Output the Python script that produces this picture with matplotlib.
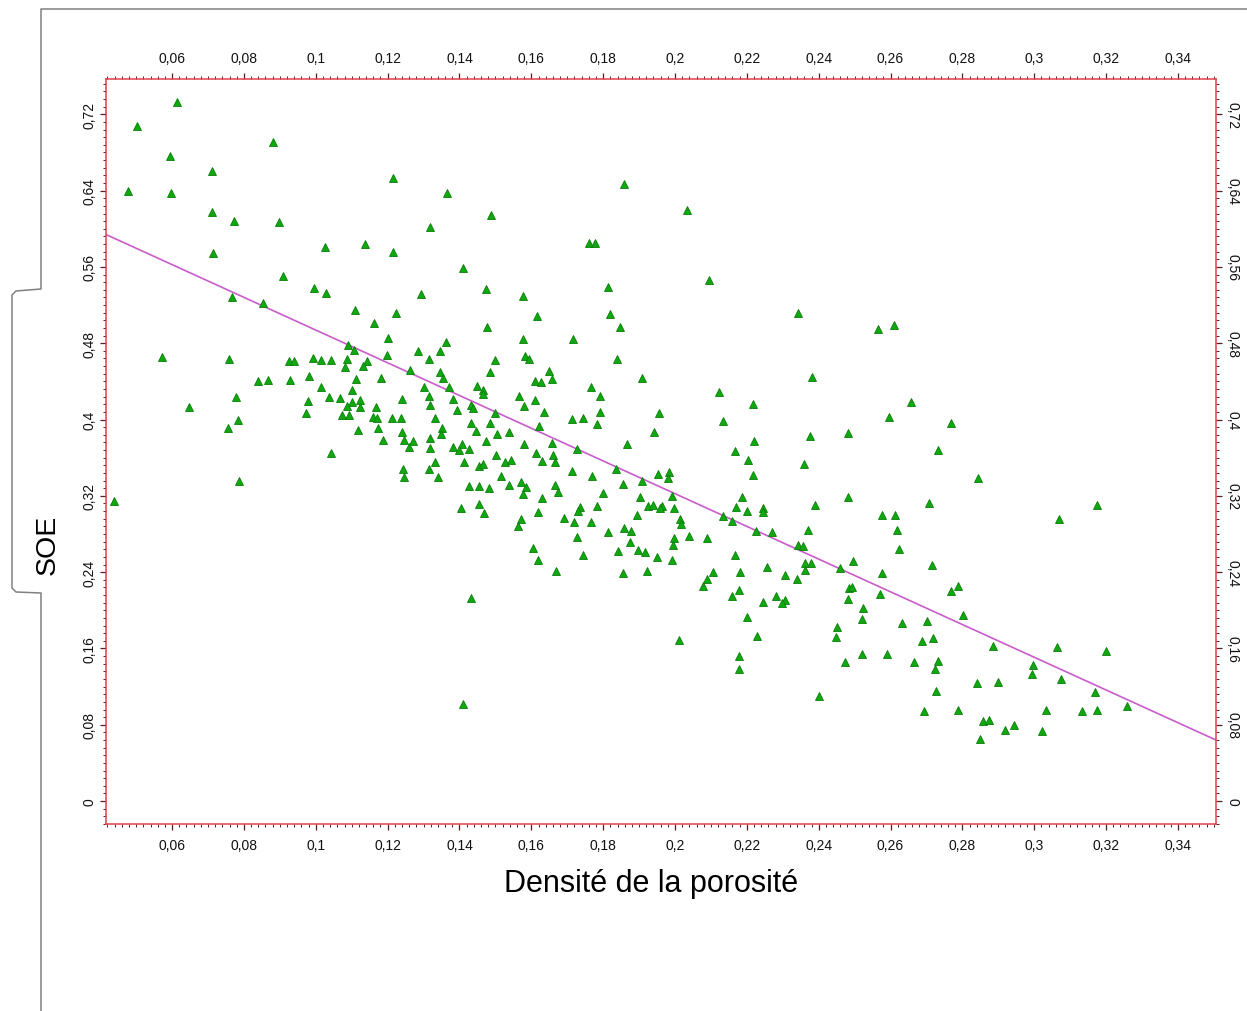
import matplotlib
matplotlib.use("Agg")
import matplotlib.pyplot as plt
from matplotlib.lines import Line2D
from matplotlib.ticker import FixedLocator, MultipleLocator, FuncFormatter
import numpy as np

plt.rcParams['font.family'] = ['Liberation Sans', 'DejaVu Sans']

# porosity density (x) and SOE (y)
densite = [
    0.0614, 0.0503, 0.0881, 0.0595, 0.0711, 0.1215, 0.0478, 0.0598, 0.1365, 0.0711,
    0.0773, 0.0898, 0.1318, 0.1026, 0.1137, 0.1215, 0.0714, 0.1410, 0.0909, 0.0995,
    0.1029, 0.1293, 0.0767, 0.0853, 0.1109, 0.1224, 0.1162, 0.1201, 0.1363, 0.1090,
    0.1107, 0.1346, 0.1285, 0.1199, 0.0572, 0.0759, 0.0926, 0.0940, 0.0993, 0.1015,
    0.1043, 0.1087, 0.1315, 0.1143, 0.1132, 0.1082, 0.1263, 0.1346, 0.1354, 0.0981,
    0.1182, 0.1112, 0.0839, 0.0867, 0.0929, 0.1301, 0.1371, 0.1449, 0.1015, 0.1101,
    0.1315, 0.1037, 0.1068, 0.0778, 0.1382, 0.1240, 0.1123, 0.1101, 0.1123, 0.0979,
    0.0647, 0.1087, 0.1318, 0.1168, 0.1432, 0.1438, 0.1393, 0.0973, 0.1073, 0.1093,
    0.1160, 0.1171, 0.1212, 0.1237, 0.1332, 0.0784, 0.0756, 0.1118, 0.1173, 0.1432,
    0.1446, 0.1240, 0.1352, 0.1349, 0.1187, 0.1246, 0.1318, 0.1271, 0.1260, 0.1318,
    0.1382, 0.1407, 0.1427, 0.1399, 0.1043, 0.1332, 0.1413, 0.1243, 0.1246, 0.1315,
    0.1340, 0.1455, 0.1466, 0.0787, 0.1427, 0.1455, 0.0439, 0.1404, 0.1455, 0.1432,
    0.1410,
    0.1858, 0.2033, 0.1488, 0.1761, 0.1777, 0.1474, 0.1814, 0.2095, 0.1577, 0.1819,
    0.1616, 0.2342, 0.1477, 0.1847, 0.1577, 0.1716, 0.1583, 0.1594, 0.1499, 0.1839,
    0.1485, 0.1649, 0.1658, 0.1610, 0.1627, 0.1908, 0.2381, 0.1466, 0.1466, 0.1566,
    0.1766, 0.1791, 0.2122, 0.1610, 0.1580, 0.2217, 0.1499, 0.1635, 0.1791, 0.1955,
    0.1713, 0.1744, 0.1485, 0.1783, 0.2134, 0.1622, 0.1505, 0.1538, 0.1942, 0.2481,
    0.1474, 0.1580, 0.1658, 0.1866, 0.2220, 0.2376, 0.1727, 0.2167,
    0.1502, 0.1527, 0.1544, 0.1613, 0.1630, 0.1660, 0.1666, 0.2203, 0.2359, 0.2217,
    0.1713, 0.1769, 0.1836, 0.1908, 0.1953, 0.1983, 0.1981, 0.1516, 0.1571, 0.1585,
    0.1577, 0.1538, 0.1482, 0.1666, 0.1674, 0.1855, 0.1800, 0.1630, 0.1903, 0.1992,
    0.2186, 0.2390, 0.2481, 0.1468, 0.1736, 0.1730, 0.1783, 0.1619, 0.1925, 0.1939,
    0.1964, 0.1958, 0.1997, 0.2170, 0.2200, 0.2245, 0.2245, 0.1894, 0.1691, 0.1719,
    0.1766, 0.2014, 0.2017, 0.2134, 0.2159, 0.1571, 0.1563, 0.1858, 0.1878, 0.1814,
    0.2225, 0.2270, 0.2370, 0.1727, 0.1875, 0.1997, 0.1994, 0.2039, 0.2089, 0.2342,
    0.2356, 0.1605, 0.1841, 0.1897, 0.1917, 0.1744, 0.1950, 0.2167, 0.1619, 0.1992,
    0.2362, 0.2378, 0.2362, 0.2459, 0.1669, 0.1855, 0.1922, 0.2106, 0.2089, 0.2078,
    0.2181, 0.2256, 0.2306, 0.2340, 0.2484, 0.2481, 0.2178, 0.2159, 0.2281, 0.2306,
    0.2298, 0.2245, 0.2200, 0.2451, 0.2448, 0.2228, 0.2011, 0.2178, 0.2178, 0.2473,
    0.2401,
    0.2732, 0.2843, 0.2707, 0.3174, 0.2576, 0.2612, 0.3069, 0.2618, 0.2623, 0.2495,
    0.2715, 0.2576, 0.2493, 0.2788, 0.2768, 0.2571, 0.2523, 0.2520, 0.2632, 0.2701,
    0.2802, 0.2687, 0.2718, 0.2885, 0.3063, 0.3199, 0.2520, 0.2590, 0.2665, 0.2732,
    0.2724, 0.2996, 0.2994, 0.2840, 0.2899, 0.3074, 0.2726, 0.3169, 0.3258, 0.2693,
    0.2788, 0.3033, 0.3133, 0.3174, 0.2857, 0.2874, 0.2918, 0.2943, 0.3021, 0.2849,
    0.2565, 0.2609, 0.2657, 0.2596, 0.2768,
]
soe = [
    0.733, 0.708, 0.691, 0.676, 0.661, 0.653, 0.640, 0.637, 0.637, 0.618,
    0.608, 0.607, 0.602, 0.581, 0.584, 0.576, 0.575, 0.559, 0.551, 0.538,
    0.533, 0.532, 0.528, 0.522, 0.515, 0.512, 0.501, 0.486, 0.481, 0.478,
    0.473, 0.472, 0.472, 0.468, 0.466, 0.463, 0.461, 0.461, 0.465, 0.462,
    0.462, 0.463, 0.463, 0.461, 0.456, 0.455, 0.452, 0.450, 0.444, 0.446,
    0.444, 0.443, 0.440, 0.441, 0.441, 0.434, 0.434, 0.435, 0.434, 0.431,
    0.425, 0.424, 0.423, 0.424, 0.422, 0.422, 0.421, 0.418, 0.413, 0.419,
    0.413, 0.414, 0.415, 0.413, 0.415, 0.412, 0.410, 0.407, 0.405, 0.405,
    0.403, 0.402, 0.402, 0.402, 0.402, 0.399, 0.391, 0.389, 0.391, 0.396,
    0.388, 0.387, 0.391, 0.385, 0.379, 0.379, 0.381, 0.377, 0.371, 0.370,
    0.371, 0.374, 0.369, 0.368, 0.365, 0.356, 0.356, 0.348, 0.340, 0.348,
    0.340, 0.351, 0.353, 0.336, 0.330, 0.330, 0.315, 0.307, 0.311, 0.213,
    0.102,
    0.647, 0.620, 0.614, 0.585, 0.585, 0.537, 0.539, 0.546, 0.529, 0.511,
    0.509, 0.512, 0.497, 0.497, 0.484, 0.484, 0.467, 0.463, 0.462, 0.463,
    0.450, 0.451, 0.442, 0.440, 0.439, 0.444, 0.445, 0.431, 0.427, 0.425,
    0.434, 0.425, 0.429, 0.420, 0.414, 0.416, 0.407, 0.408, 0.408, 0.407,
    0.401, 0.402, 0.396, 0.395, 0.398, 0.393, 0.385, 0.387, 0.387, 0.386,
    0.377, 0.374, 0.375, 0.374, 0.378, 0.383, 0.369, 0.367,
    0.363, 0.356, 0.358, 0.365, 0.357, 0.363, 0.355, 0.358, 0.353, 0.342,
    0.346, 0.341, 0.348, 0.336, 0.343, 0.345, 0.339, 0.341, 0.335, 0.329,
    0.322, 0.331, 0.328, 0.331, 0.324, 0.332, 0.323, 0.318, 0.319, 0.320,
    0.319, 0.310, 0.319, 0.302, 0.308, 0.304, 0.309, 0.303, 0.309, 0.310,
    0.309, 0.307, 0.307, 0.308, 0.304, 0.307, 0.303, 0.300, 0.297, 0.293,
    0.293, 0.296, 0.290, 0.299, 0.294, 0.296, 0.288, 0.286, 0.283, 0.282,
    0.283, 0.282, 0.284, 0.277, 0.272, 0.276, 0.269, 0.278, 0.276, 0.269,
    0.267, 0.265, 0.262, 0.263, 0.261, 0.258, 0.256, 0.258, 0.253, 0.253,
    0.250, 0.250, 0.242, 0.244, 0.241, 0.239, 0.241, 0.240, 0.233, 0.225,
    0.240, 0.245, 0.237, 0.233, 0.223, 0.212, 0.221, 0.215, 0.215, 0.211,
    0.208, 0.209, 0.193, 0.183, 0.172, 0.173, 0.169, 0.152, 0.139, 0.146,
    0.110,
    0.368, 0.339, 0.312, 0.310, 0.300, 0.300, 0.296, 0.284, 0.264, 0.252,
    0.248, 0.239, 0.224, 0.226, 0.220, 0.217, 0.202, 0.191, 0.187, 0.189,
    0.195, 0.168, 0.171, 0.163, 0.162, 0.157, 0.154, 0.154, 0.146, 0.147,
    0.139, 0.143, 0.133, 0.124, 0.125, 0.128, 0.115, 0.114, 0.100, 0.094,
    0.095, 0.096, 0.094, 0.095, 0.084, 0.085, 0.075, 0.080, 0.073, 0.065,
    0.495, 0.499, 0.418, 0.403, 0.396,
]

# fitted line: SOE = intercept + slope * densite
fit_intercept = 0.6653
fit_slope = -1.715

x_ticks = [0.06, 0.08, 0.10, 0.12, 0.14, 0.16, 0.18, 0.20, 0.22, 0.24,
           0.26, 0.28, 0.30, 0.32, 0.34]
y_ticks = [0.0, 0.08, 0.16, 0.24, 0.32, 0.40, 0.48, 0.56, 0.64, 0.72]
x_range = (0.0416, 0.3506)
y_range = (-0.024, 0.757)


def virgule(v, pos=None):
    return f"{round(v, 4):g}".replace('.', ',')


W, H = 1247, 1012
fig = plt.figure(figsize=(W / 100, H / 100), dpi=100)
fig.patch.set_facecolor('white')

ax = fig.add_axes([106 / W, 1 - 825 / H, (1216 - 106) / W, (825 - 80) / H])

ax.plot(densite, soe, linestyle='none', marker='^', ms=5.5,
        mfc='#10a810', mec='#087e08', mew=0.6, zorder=3)

xs = np.array(x_range)
ax.plot(xs, fit_intercept + fit_slope * xs, color='#c85ccb', lw=1.2, zorder=2)

ax.set_xlim(*x_range)
ax.set_ylim(*y_range)

ax.xaxis.set_major_locator(FixedLocator(x_ticks))
ax.yaxis.set_major_locator(FixedLocator(y_ticks))
ax.xaxis.set_minor_locator(MultipleLocator(0.002))
ax.yaxis.set_minor_locator(MultipleLocator(0.008))
ax.xaxis.set_major_formatter(FuncFormatter(virgule))
ax.yaxis.set_major_formatter(FuncFormatter(virgule))

for s in ax.spines.values():
    s.set_color('#e2404c')
    s.set_linewidth(1.1)

ax.tick_params(which='both', direction='out', top=True, right=True,
               labeltop=True, labelright=True, color='#5a1f24',
               labelsize=10, labelcolor='#111111')
ax.tick_params(which='major', length=4, width=0.9)
ax.tick_params(which='minor', length=2, width=0.7)
ax.tick_params(axis='x', which='major', pad=6)
ax.tick_params(axis='y', which='major', pad=3)

for t in ax.yaxis.get_major_ticks():
    t.label1.set_rotation(90)
    t.label1.set_va('center')
    t.label2.set_rotation(-90)
    t.label2.set_va('center')

fig.text(48 / W, 1 - 545 / H, 'SOE', rotation=90, ha='center', va='center',
         fontsize=20.5)
fig.text(651 / W, 1 - 884 / H, 'Densité de la porosité', ha='center',
         va='center', fontsize=22)

# scan border round the figure
bx = [1247, 41, 41, 16, 12, 12, 16, 41, 41]
by = [10, 10, 290, 292, 296, 589, 593, 594, 1012]
fig.add_artist(Line2D([v / W for v in bx], [1 - v / H for v in by],
                      color='#808080', lw=1.1, transform=fig.transFigure))

fig.savefig('out.png', dpi=100, facecolor='white')
